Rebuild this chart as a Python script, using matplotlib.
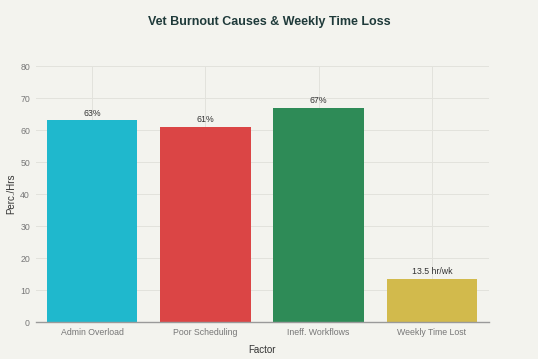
import matplotlib
matplotlib.use("Agg")
import matplotlib.pyplot as plt

plt.rcParams['font.family'] = ['Liberation Sans', 'DejaVu Sans']

categories = ["Admin Overload", "Poor Scheduling", "Ineff. Workflows", "Weekly Time Lost"]
values = [63, 61, 67, 13.5]
labels = ["63%", "61%", "67%", "13.5 hr/wk"]
colors = ["#1FB8CD", "#DB4545", "#2E8B57", "#D2BA4C"]
yticks = [0, 10, 20, 30, 40, 50, 60, 70, 80]

bg = "#F3F3EE"
fig = plt.figure(figsize=(5.38, 3.59), dpi=100, facecolor=bg)
ax = fig.add_axes([0.066, 0.103, 0.842, 0.713], facecolor=bg)

x = list(range(len(categories)))
ax.bar(x, values, width=0.8, color=colors, zorder=3)
for xi, v, lab in zip(x, values, labels):
    ax.text(xi, v + 0.8, lab, ha="center", va="bottom", fontsize=6.3, color="#333333", zorder=4)

ax.set_xlim(-0.5, 3.5)
ax.set_ylim(0, 80)
ax.set_yticks(yticks)
ax.set_xticks(x)
ax.set_xticklabels(categories)
ax.tick_params(axis="both", length=0, labelsize=6.3, colors="#777777", pad=4)
ax.grid(True, color="#E2E2DC", linewidth=0.7, zorder=0)
for s in ["top", "right", "left"]:
    ax.spines[s].set_visible(False)
ax.spines["bottom"].set_color("#9a9a9a")
ax.spines["bottom"].set_linewidth(1.0)
ax.spines["bottom"].set_zorder(5)

ax.set_xlabel("Factor", fontsize=7, color="#333333", labelpad=6)
ax.set_ylabel("Perc./Hrs", fontsize=7, color="#333333", labelpad=3)
fig.text(0.5, 0.938, "Vet Burnout Causes & Weekly Time Loss", ha="center", va="center",
         fontsize=9, fontweight="bold", color="#1f3a3a")

fig.savefig("out.png", dpi=100, facecolor=bg)
